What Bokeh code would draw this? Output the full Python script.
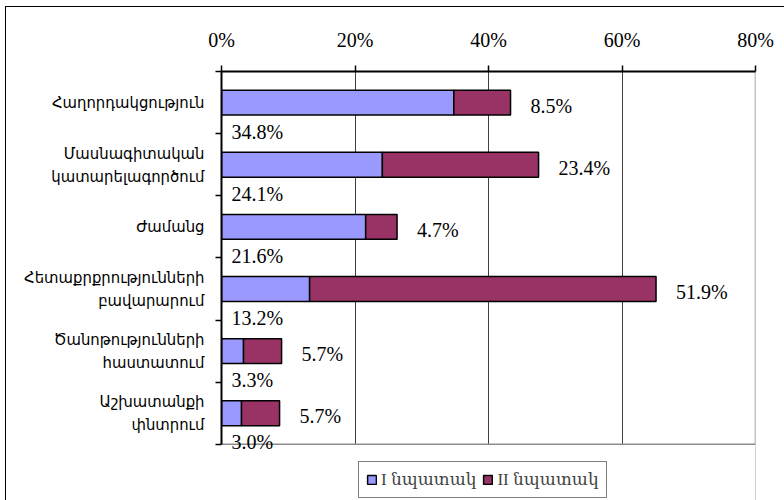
from bokeh.plotting import figure
from bokeh.models import (Range1d, FixedTicker, PrintfTickFormatter, Legend,
                          LegendItem, ColumnDataSource, Span, BoxAnnotation)
from bokeh.core.properties import value
from bokeh.embed import file_html
from bokeh.resources import INLINE

categories = ["Հաղորդակցություն",
              "Մասնագիտական\nկատարելագործում",
              "Ժամանց",
              "Հետաքրքրությունների\nբավարարում",
              "Ծանոթությունների\nհաստատում",
              "Աշխատանքի\nփնտրում"]
goal1 = [34.8, 24.1, 21.6, 13.2, 3.3, 3.0]
goal2 = [8.5, 23.4, 4.7, 51.9, 5.7, 5.7]
series_names = ["I նպատակ", "II նպատակ"]
x_ticks = [0, 20, 40, 60, 80]

FONT = "Liberation Serif, DejaVu Serif, serif"
CAT_FONT = "DejaVu Sans Condensed, DejaVu Sans, sans-serif"
BLUE = "#9999FF"
PLUM = "#993366"
BORDER = "#8c8c8c"

n = len(categories)
ypos = [n - 1 - i for i in range(n)]
total = [a + b for a, b in zip(goal1, goal2)]

src = ColumnDataSource(dict(
    y=ypos, g1=goal1, g2=goal2, tot=total, zero=[0] * n,
    l1=[f"{v:.1f}%" for v in goal1],
    l2=[f"{v:.1f}%" for v in goal2],
))

# plot area of 6 bands (372 px) plus 57 px of room below for labels/legend
band_px = 372 / n
extra = 57 / band_px
p = figure(width=779, height=494,
           x_range=Range1d(0, 80), y_range=Range1d(-0.5 - extra, n - 0.5),
           x_axis_location="above",
           output_backend="svg", toolbar_location=None,
           min_border_left=215, min_border_right=30,
           min_border_top=64, min_border_bottom=0)
p.styles = {"margin-left": "5px", "margin-top": "6px",
            "border-left": "1px solid black", "border-top": "1px solid black"}
p.outline_line_color = None

p.xgrid.ticker = FixedTicker(ticks=[20, 40, 60])
p.xgrid.grid_line_color = "#404040"
p.xgrid.grid_line_width = 1
p.ygrid.visible = False

# right border of the plot area
p.add_layout(Span(location=x_ticks[-1], dimension="height", line_color=BORDER,
                  line_width=1.5, level="underlay"))
# blank strip below the plot area
p.add_layout(BoxAnnotation(top=-0.5, fill_color="white", fill_alpha=1,
                           line_color=None, level="underlay"))
# bottom border of the plot area
p.add_layout(Span(location=-0.5, dimension="width", line_color=BORDER,
                  line_width=1.5, level="underlay"))

r1 = p.hbar(y="y", left="zero", right="g1", height=0.4, fill_color=BLUE,
            line_color="black", line_width=1.5, source=src)
r2 = p.hbar(y="y", left="g1", right="tot", height=0.4, fill_color=PLUM,
            line_color="black", line_width=1.5, source=src)

# data labels
p.text(x="zero", y="y", text="l1", x_offset=10, y_offset=29,
       text_align="left", text_baseline="middle",
       text_font=value(FONT), text_font_size="20px", text_color="black",
       source=src)
p.text(x="tot", y="y", text="l2", x_offset=20, y_offset=3,
       text_align="left", text_baseline="middle",
       text_font=value(FONT), text_font_size="20px", text_color="black",
       source=src)

# top axis
xa = p.xaxis[0]
xa.ticker = FixedTicker(ticks=x_ticks)
xa.formatter = PrintfTickFormatter(format="%d%%")
xa.major_label_text_font = FONT
xa.major_label_text_font_size = "20px"
xa.major_label_text_color = "black"
xa.major_tick_in = 0
xa.major_tick_out = 6
xa.minor_tick_line_color = None
xa.axis_line_width = 2
xa.major_tick_line_width = 1.5
xa.major_label_standoff = 15

# left axis
ya = p.yaxis[0]
ya.bounds = (-0.5, n - 0.5)
ya.ticker = FixedTicker(ticks=ypos, minor_ticks=[i - 0.5 for i in range(n + 1)])
ya.major_label_overrides = {y: c for y, c in zip(ypos, categories)}
ya.major_label_text_font = CAT_FONT
ya.major_label_text_font_size = "16.5px"
ya.major_label_text_color = "black"
ya.major_tick_in = 0
ya.major_tick_out = 0
ya.minor_tick_in = 0
ya.minor_tick_out = 6
ya.minor_tick_line_width = 1.5
ya.axis_line_width = 2
ya.major_label_standoff = 11

legend = Legend(items=[LegendItem(label=series_names[0], renderers=[r1]),
                       LegendItem(label=series_names[1], renderers=[r2])],
                orientation="horizontal", location=(137, 3),
                label_text_font=FONT, label_text_font_size="17px",
                glyph_width=11, glyph_height=11, label_standoff=4,
                spacing=6, padding=7, margin=0,
                border_line_color="black", border_line_width=1,
                background_fill_alpha=1)
p.add_layout(legend, "center")

open("out.html", "w").write(file_html(p, INLINE))
